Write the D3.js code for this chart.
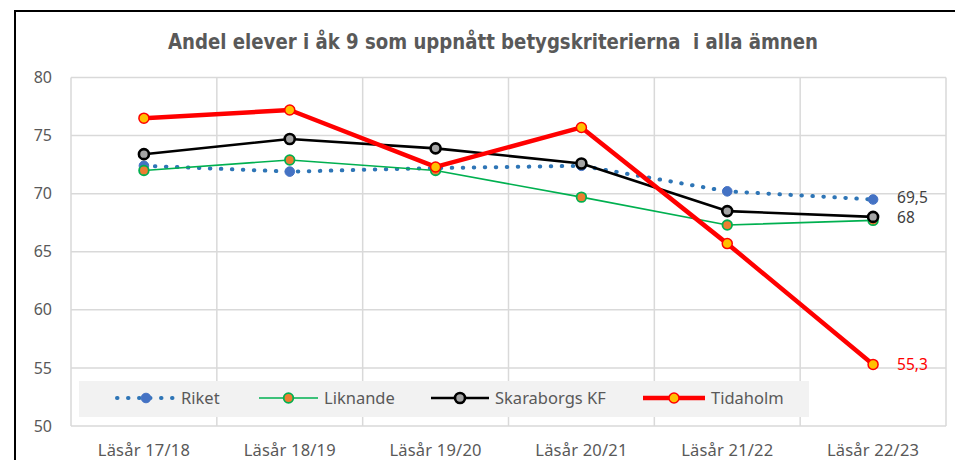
<!DOCTYPE html>
<html>
<head>
<meta charset="utf-8">
<script src="https://cdn.jsdelivr.net/npm/d3@7"></script>
<style>
  body { margin: 0; background: #fff; }
  svg { display: block; }
</style>
</head>
<body>
<svg id="chart" width="955" height="460"></svg>
<script>
// chart data
const years = ["Läsår 17/18", "Läsår 18/19", "Läsår 19/20", "Läsår 20/21", "Läsår 21/22", "Läsår 22/23"];
const riket = [72.4, 71.9, 72.2, 72.4, 70.2, 69.5];
const liknande = [72.0, 72.9, 72.0, 69.7, 67.3, 67.7];
const skaraborg = [73.4, 74.7, 73.9, 72.6, 68.5, 68];
const tidaholm = [76.5, 77.2, 72.3, 75.7, 65.7, 55.3];
const yTicks = [50, 55, 60, 65, 70, 75, 80];
const title = "Andel elever i åk 9 som uppnått betygskriterierna  i alla ämnen";

const svg = d3.select("#chart");
const sv = d3.formatLocale({decimal: ",", thousands: " ", grouping: [3], currency: ["", " kr"]});
const fmt = sv.format("~r");

// outer frame
svg.append("path")
    .attr("d", "M15,460 V11 H960")
    .attr("fill", "none")
    .attr("stroke", "#000")
    .attr("stroke-width", 2);

svg.append("text")
    .attr("x", 493)
    .attr("y", 49)
    .attr("text-anchor", "middle")
    .attr("font-family", "'Liberation Sans Narrow', 'DejaVu Sans Condensed', sans-serif")
    .attr("font-weight", "bold")
    .attr("font-size", 21)
    .attr("fill", "#595959")
    .attr("textLength", 650)
    .attr("lengthAdjust", "spacingAndGlyphs")
    .style("white-space", "pre")
    .text(title);

const plot = {left: 71, right: 946, top: 77.5, bottom: 426};

const x = d3.scaleBand().domain(years).range([plot.left, plot.right]);
const y = d3.scaleLinear().domain([50, 80]).range([plot.bottom, plot.top]);
const cx = d => x(d) + x.bandwidth() / 2;

// gridlines
const grid = svg.append("g").attr("stroke", "#d9d9d9").attr("stroke-width", 1.5);
grid.selectAll(".h").data(yTicks).join("line")
    .attr("x1", plot.left).attr("x2", plot.right)
    .attr("y1", d => y(d)).attr("y2", d => y(d));
grid.selectAll(".v").data(years.concat(["end"])).join("line")
    .attr("x1", (d, i) => plot.left + i * x.bandwidth())
    .attr("x2", (d, i) => plot.left + i * x.bandwidth())
    .attr("y1", plot.top).attr("y2", plot.bottom);

// axes (labels only)
const yAxis = svg.append("g")
    .attr("transform", `translate(${plot.left - 19},0)`)
    .call(d3.axisLeft(y).tickValues(yTicks).tickSize(0).tickPadding(0));
yAxis.select(".domain").remove();
yAxis.selectAll("text")
    .attr("font-family", "'Noto Sans', sans-serif")
    .attr("font-size", 16)
    .attr("fill", "#595959");

const xAxis = svg.append("g")
    .attr("transform", `translate(0,${plot.bottom})`)
    .call(d3.axisBottom(x).tickSize(0).tickPadding(18));
xAxis.select(".domain").remove();
xAxis.selectAll("text")
    .attr("font-family", "'Noto Sans', sans-serif")
    .attr("font-size", 16.5)
    .attr("letter-spacing", 0.2)
    .attr("fill", "#595959");

// legend box (drawn over grid, under lines)
const legend = svg.append("g");
legend.append("rect")
    .attr("x", 79).attr("y", 381)
    .attr("width", 730).attr("height", 36)
    .attr("fill", "#f2f2f2");

const series = [
    {name: "Riket", values: riket, line: "#2e75b6", width: 4, dash: "0.5 10.5", fill: "#4472c4", stroke: "#4472c4", sw: 1, r: 4.8},
    {name: "Liknande", values: liknande, line: "#00b050", width: 1.6, dash: null, fill: "#ed7d31", stroke: "#00b050", sw: 1.8, r: 4.8},
    {name: "Skaraborgs KF", values: skaraborg, line: "#000000", width: 2.6, dash: null, fill: "#a5a5a5", stroke: "#000000", sw: 2.6, r: 5},
    {name: "Tidaholm", values: tidaholm, line: "#ff0000", width: 4.5, dash: null, fill: "#ffc000", stroke: "#ff0000", sw: 1.5, r: 5}
];

const lineGen = d3.line().x((d, i) => cx(years[i])).y(d => y(d));

series.forEach(s => {
    const g = svg.append("g");
    g.append("path")
        .attr("d", lineGen(s.values))
        .attr("fill", "none")
        .attr("stroke", s.line)
        .attr("stroke-width", s.width)
        .attr("stroke-linecap", s.dash ? "round" : "butt")
        .attr("stroke-linejoin", "round")
        .attr("stroke-dasharray", s.dash);
    g.selectAll("circle").data(s.values).join("circle")
        .attr("cx", (d, i) => cx(years[i]))
        .attr("cy", d => y(d))
        .attr("r", s.r)
        .attr("fill", s.fill)
        .attr("stroke", s.stroke)
        .attr("stroke-width", s.sw);
});

// end-value labels
const endLabels = [
    {v: riket[5], color: "#404040", dy: -1.5},
    {v: skaraborg[5], color: "#404040", dy: 1},
    {v: tidaholm[5], color: "#ff0000", dy: 0}
];
svg.selectAll(".endlab").data(endLabels).join("text")
    .attr("x", cx(years[5]) + 24)
    .attr("y", d => y(d.v) + d.dy)
    .attr("dy", "0.35em")
    .attr("font-family", "'Noto Sans', sans-serif")
    .attr("font-size", 15.5)
    .attr("fill", d => d.color)
    .text(d => fmt(d.v));

// legend items
const legX = [117, 259, 431, 643];
const legW = [58, 59, 58, 62];
series.forEach((s, i) => {
    const g = legend.append("g");
    const ly = 398;
    g.append("line")
        .attr("x1", legX[i]).attr("x2", legX[i] + legW[i])
        .attr("y1", ly).attr("y2", ly)
        .attr("stroke", s.line)
        .attr("stroke-width", s.width)
        .attr("stroke-linecap", s.dash ? "round" : "butt")
        .attr("stroke-dasharray", s.dash);
    g.append("circle")
        .attr("cx", legX[i] + legW[i] / 2).attr("cy", ly)
        .attr("r", s.r)
        .attr("fill", s.fill)
        .attr("stroke", s.stroke)
        .attr("stroke-width", s.sw);
    g.append("text")
        .attr("x", legX[i] + legW[i] + 6)
        .attr("y", ly)
        .attr("dy", "0.35em")
        .attr("font-family", "'Noto Sans', sans-serif")
        .attr("font-size", 16.5)
        .attr("fill", "#595959")
        .text(s.name);
});
</script>
</body>
</html>
